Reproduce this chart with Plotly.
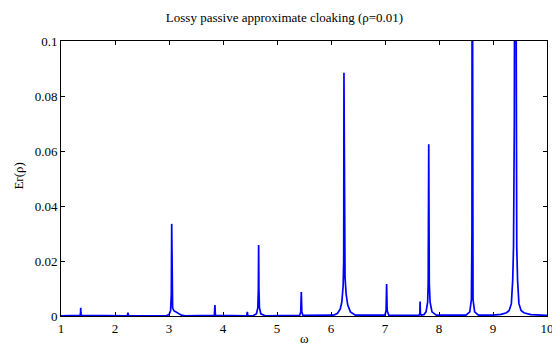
import plotly.graph_objects as go

# Frequency samples (omega) and response Er(rho)
omega = [1.0, 1.355, 1.362, 1.365, 1.368, 1.375,
         2.23, 2.24, 2.25,
         2.95, 3.00, 3.03, 3.043, 3.05, 3.057, 3.067, 3.09, 3.13, 3.18, 3.23, 3.30,
         3.84, 3.85, 3.86,
         4.44, 4.45, 4.46,
         4.56, 4.62, 4.645, 4.655, 4.66, 4.665, 4.675, 4.70, 4.78,
         5.42, 5.44, 5.45, 5.46, 5.48,
         6.05, 6.12, 6.17, 6.20, 6.225, 6.235, 6.24, 6.25, 6.26, 6.28, 6.31, 6.36, 6.45,
         7.00, 7.02, 7.03, 7.04, 7.07,
         7.63, 7.645, 7.65, 7.655, 7.67,
         7.72, 7.76, 7.79, 7.80, 7.81, 7.82, 7.835, 7.87, 7.95,
         8.50, 8.57, 8.60, 8.61, 8.615, 8.62, 8.63, 8.66, 8.73,
         9.00, 9.15, 9.25, 9.30, 9.34, 9.365, 9.38, 9.395, 9.41, 9.425, 9.44, 9.455,
         9.48, 9.52, 9.57, 9.70, 9.85, 10.0]

er = [0.0001, 0.0002, 0.0012, 0.003, 0.0012, 0.0002,
      0.0001, 0.0012, 0.0001,
      0.0001, 0.0005, 0.002, 0.008, 0.0335, 0.008, 0.003, 0.0019, 0.0014, 0.0008, 0.0003, 0.0001,
      0.0002, 0.004, 0.0002,
      0.0001, 0.0015, 0.0001,
      0.0001, 0.0008, 0.003, 0.01, 0.0258, 0.01, 0.003, 0.0008, 0.0001,
      0.0002, 0.0015, 0.0087, 0.0015, 0.0002,
      0.0003, 0.001, 0.0025, 0.005, 0.011, 0.02, 0.0885, 0.018, 0.014, 0.008, 0.004, 0.0015, 0.0003,
      0.0003, 0.002, 0.0116, 0.002, 0.0003,
      0.0002, 0.001, 0.0053, 0.001, 0.0003,
      0.0005, 0.0015, 0.005, 0.012, 0.0625, 0.012, 0.005, 0.0015, 0.0003,
      0.0003, 0.0015, 0.006, 0.03, 0.2, 0.03, 0.006, 0.0015, 0.0003,
      0.0003, 0.0006, 0.0012, 0.002, 0.0045, 0.013, 0.025, 0.07, 0.25, 0.07, 0.025, 0.013,
      0.0045, 0.002, 0.0012, 0.0005, 0.0003, 0.0002]

x_ticks = [1, 2, 3, 4, 5, 6, 7, 8, 9, 10]
x_tick_text = ["1", "2", "3", "4", "5", "6", "7", "8", "9", "10"]
y_ticks = [0, 0.02, 0.04, 0.06, 0.08, 0.1]
y_tick_text = ["0", "0.02", "0.04", "0.06", "0.08", "0.1"]

FONT = "Liberation Serif"
TXT = dict(family=FONT, size=13, color="black")

# the page body has an 8px margin, so the figure is sized to fill the rest of the window
W, H = 552, 339

fig = go.Figure()
fig.add_trace(go.Scatter(x=omega, y=er, mode="lines",
                         line=dict(color="#0000FF", width=1.7),
                         hoverinfo="x+y", showlegend=False))

axis_common = dict(showline=True, linecolor="black", linewidth=1, mirror="ticks",
                   ticks="inside", ticklen=4, tickwidth=1, tickcolor="black",
                   showgrid=False, zeroline=False, tickfont=TXT,
                   ticklabeloverflow="allow")

fig.update_xaxes(range=[1, 10], tickvals=x_ticks, ticktext=x_tick_text, **axis_common)
fig.update_yaxes(range=[0, 0.1], tickvals=y_ticks, ticktext=y_tick_text, **axis_common)

fig.update_layout(
    width=W, height=H,
    margin=dict(l=53, r=6, t=33, b=31),
    paper_bgcolor="white", plot_bgcolor="white",
    font=TXT,
    title=dict(text="Lossy passive approximate cloaking (\u03c1=0.01)",
               x=276.5 / W, xref="container", xanchor="center",
               y=1 - 9 / H, yref="container", yanchor="middle", font=TXT),
    annotations=[
        dict(text="Er(\u03c1)", xref="paper", yref="paper",
             x=(9 - 53) / 493, y=(308 - 168) / 275, textangle=-90,
             showarrow=False, xanchor="center", yanchor="middle", font=TXT),
        dict(text="\u03c9", xref="paper", yref="paper",
             x=(300 - 53) / 493, y=(308 - 339) / 275,
             showarrow=False, xanchor="center", yanchor="bottom", font=TXT,
             borderpad=0),
    ],
)

fig.write_html("out.html")
